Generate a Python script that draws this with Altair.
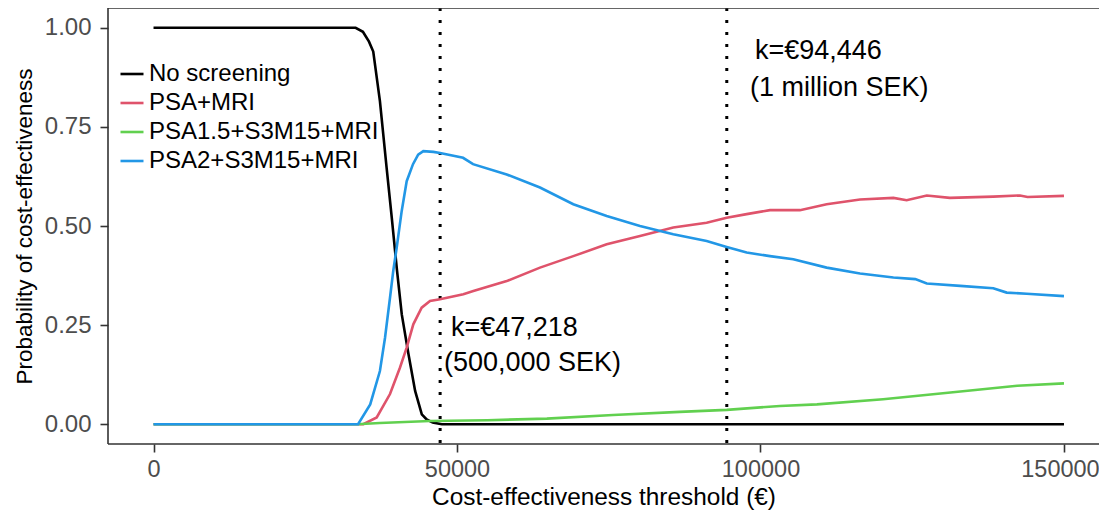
import altair as alt
import pandas as pd

# ---- data ----
series_names = ["No screening", "PSA+MRI", "PSA1.5+S3M15+MRI", "PSA2+S3M15+MRI"]
series_colors = ["#000000", "#DF536B", "#61D04F", "#2297E6"]

ns_x = [0, 33300, 34500, 35500, 36200, 37300, 38400, 39250, 40100, 40900, 42000,
        43100, 44200, 45000, 46000, 47500, 150000]
ns_y = [1.0, 1.0, 0.99, 0.965, 0.94, 0.815, 0.647, 0.521, 0.39, 0.277, 0.177,
        0.084, 0.025, 0.012, 0.004, 0.0, 0.0]

psa_x = [0, 34560, 36770, 38960, 40610, 41710, 42800, 44180, 45550, 47200, 51040,
         52690, 58190, 63670, 69160, 74660, 80150, 85630, 91130, 94430, 97720,
         101560, 106500, 110900, 116400, 121900, 124080, 127400, 131200, 138350,
         142750, 144000, 150000]
psa_y = [0.0, 0.0, 0.017, 0.076, 0.143, 0.193, 0.252, 0.294, 0.311, 0.315, 0.328,
         0.336, 0.361, 0.395, 0.424, 0.454, 0.475, 0.496, 0.508, 0.521, 0.530,
         0.540, 0.540, 0.555, 0.567, 0.571, 0.565, 0.577, 0.571, 0.574,
         0.577, 0.573, 0.576]

psa15_x = [0, 33500, 37300, 45500, 55000, 64800, 75700, 86700, 94450, 103200,
           109300, 120200, 131300, 142300, 150000]
psa15_y = [0.0, 0.0, 0.003, 0.008, 0.010, 0.014, 0.023, 0.031, 0.036, 0.046,
           0.050, 0.063, 0.080, 0.097, 0.103]

psa2_x = [0, 33700, 35700, 37300, 38140, 38960, 39500, 40060, 40890, 41710, 42750,
          43600, 44450, 46100, 47200, 51000, 52640, 58190, 63670, 69160, 74660,
          80150, 85630, 91130, 94430, 97720, 101560, 105400, 110900, 116400,
          121900, 125500, 127400, 132900, 138350, 140560, 143850, 150000]
psa2_y = [0.0, 0.0, 0.05, 0.134, 0.218, 0.319, 0.387, 0.445, 0.538, 0.613, 0.656,
          0.68, 0.689, 0.687, 0.684, 0.672, 0.656, 0.630, 0.597, 0.555, 0.525,
          0.500, 0.479, 0.462, 0.447, 0.433, 0.424, 0.416, 0.395, 0.380,
          0.370, 0.366, 0.355, 0.349, 0.343, 0.332, 0.329, 0.323]

k_values = [47218, 94446]

ann_text = ["k=€47,218", "(500,000 SEK)", "k=€94,446", "(1 million SEK)"]
ann_x = [48990, 47850, 99090, 98270]
ann_y = [0.243, 0.155, 0.941, 0.848]

x_ticks = [0, 50000, 100000, 150000]
y_ticks = [0.0, 0.25, 0.5, 0.75, 1.0]

# ---- tables ----
rows = []
for name, xs, ys in zip(series_names,
                        [ns_x, psa_x, psa15_x, psa2_x],
                        [ns_y, psa_y, psa15_y, psa2_y]):
    for xv, yv in zip(xs, ys):
        rows.append({"threshold": xv, "prob": yv, "strategy": name})
df = pd.DataFrame(rows)
k_df = pd.DataFrame({"k": k_values})
ann_df = pd.DataFrame({"label": ann_text, "x": ann_x, "y": ann_y})

FONT = "Liberation Sans"
W, H = 991, 436

# panel continues past the right edge of the picture in the reference
xscale = alt.Scale(domain=[-7500, 155770], nice=False, zero=False)
yscale = alt.Scale(domain=[-0.05, 1.05], nice=False, zero=False)
color_scale = alt.Scale(domain=series_names, range=series_colors)

x_axis = alt.Axis(values=x_ticks, format="d", title="Cost-effectiveness threshold (€)",
                  grid=False, domain=False, tickColor="#333333", tickWidth=1.6,
                  tickSize=8, labelColor="#4D4D4D", labelFontSize=23.5, labelFont=FONT,
                  labelPadding=5,
                  labelOffset={"condition": {"test": "datum.value >= 150000", "value": -4},
                               "value": 0},
                  titleFont=FONT, titleFontSize=24.4,
                  titleFontWeight="normal", titleColor="#000000", titlePadding=5)
y_axis = alt.Axis(values=y_ticks, format=".2f", title="Probability of cost-effectiveness",
                  grid=False, domain=False, tickColor="#333333", tickWidth=1.6,
                  tickSize=8, labelColor="#4D4D4D", labelFontSize=24, labelFont=FONT,
                  labelPadding=9, titleFont=FONT, titleFontSize=22.5,
                  titleFontWeight="normal", titleColor="#000000", titlePadding=8)

legend = alt.Legend(title=None, orient="none", legendX=11, legendY=53,
                    symbolType="stroke", symbolSize=529, symbolStrokeWidth=2.6,
                    labelFontSize=24, labelFont=FONT, labelColor="#000000",
                    labelLimit=0, labelOffset=4, rowPadding=4, padding=0)

layers = []
for name in series_names:
    layers.append(
        alt.Chart(df).transform_filter(alt.datum.strategy == name)
        .mark_line(strokeWidth=2.6, clip=True)
        .encode(
            x=alt.X("threshold:Q", scale=xscale, axis=x_axis),
            y=alt.Y("prob:Q", scale=yscale, axis=y_axis),
            color=alt.Color("strategy:N", scale=color_scale, legend=legend),
        )
    )

rules = alt.Chart(k_df).mark_rule(color="#000000", strokeWidth=3,
                                   strokeDash=[3, 9]).encode(
    x=alt.X("k:Q", scale=xscale)
)

texts = alt.Chart(ann_df).mark_text(align="left", baseline="middle", font=FONT,
                                    fontSize=27, color="#000000").encode(
    x=alt.X("x:Q", scale=xscale),
    y=alt.Y("y:Q", scale=yscale),
    text="label:N",
)

# panel border: top, left and bottom (right side lies outside the picture)
frame_style = dict(color="#333333", strokeWidth=1.6)
top_line = alt.Chart().mark_rule(**frame_style).encode(
    x=alt.value(0), x2=alt.value(W), y=alt.value(0))
bottom_line = alt.Chart().mark_rule(**frame_style).encode(
    x=alt.value(0), x2=alt.value(W), y=alt.value(H))
left_line = alt.Chart().mark_rule(**frame_style).encode(
    x=alt.value(0), y=alt.value(0), y2=alt.value(H))

chart = alt.layer(rules, *layers, texts, top_line, bottom_line, left_line).properties(
    width=W, height=H,
    autosize=alt.AutoSizeParams(type="none"),
    padding={"left": 100, "top": 0, "right": 0, "bottom": 72},
    background="#ffffff",
).configure_view(
    strokeWidth=0
)

chart.save("out.html", embed_options={"renderer": "svg", "actions": False})
